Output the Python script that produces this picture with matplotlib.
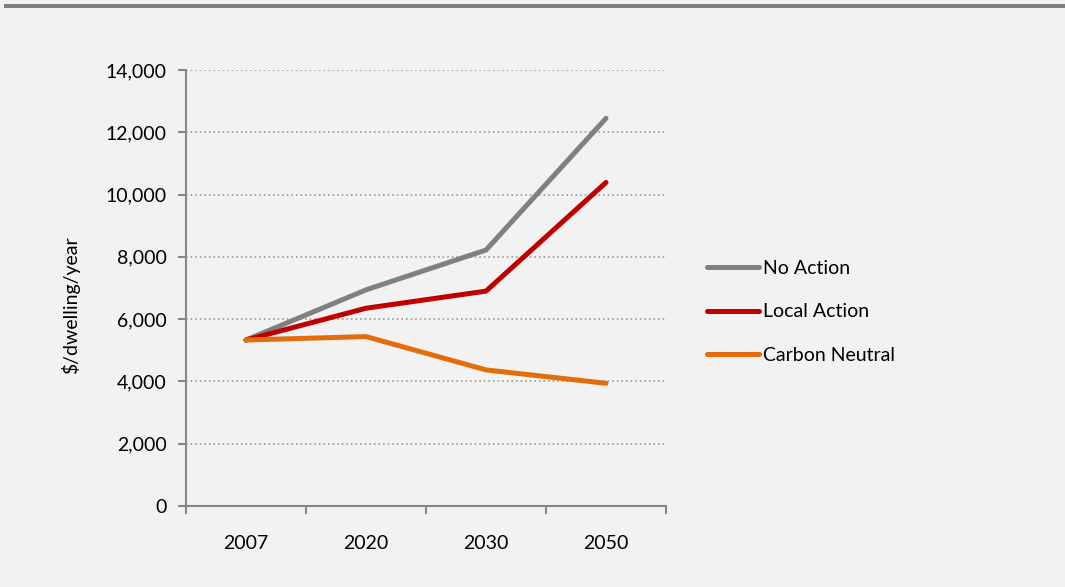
import matplotlib.pyplot as plt
from matplotlib.lines import Line2D

plt.rcParams['font.family'] = ['Lato', 'DejaVu Sans']

years = ['2007', '2020', '2030', '2050']
no_action = [5330, 6940, 8220, 12450]
local_action = [5330, 6350, 6900, 10390]
carbon_neutral = [5330, 5440, 4370, 3940]

series = [
    ('No Action', no_action, '#808080'),
    ('Local Action', local_action, '#c00000'),
    ('Carbon Neutral', carbon_neutral, '#e46c0a'),
]

bg = '#f2f2f2'
axis_grey = '#868686'

fig = plt.figure(figsize=(10.65, 5.87), dpi=100, facecolor=bg)
# grey band along the top edge
fig.patches.append(plt.Rectangle((0.004, 0.986), 0.996, 0.008, transform=fig.transFigure,
                                 facecolor='#808080', edgecolor='none'))

ax = fig.add_axes([0.1746, 0.138, 0.4508, 0.7427])
ax.set_facecolor(bg)

x = range(len(years))
for name, vals, col in series:
    ax.plot(x, vals, color=col, lw=3.6, solid_capstyle='round', label=name)

ax.set_xlim(-0.5, len(years) - 0.5)
ax.set_ylim(0, 14000)
ax.set_yticks(range(0, 14001, 2000))
ax.set_yticklabels([f'{v:,}' for v in range(0, 14001, 2000)], fontsize=14)
ax.yaxis.grid(True, linestyle=(0, (1, 2)), color='#8c8c8c', lw=1.1)

# category boundaries get the tick marks, centres get the labels
ax.set_xticks([i - 0.5 for i in range(len(years) + 1)])
ax.set_xticklabels([])
ax.set_xticks(list(x), minor=True)
ax.set_xticklabels(years, minor=True, fontsize=14)
ax.tick_params(axis='x', which='major', length=6, color=axis_grey, width=1.5, direction='out')
ax.tick_params(axis='x', which='minor', length=0, pad=21)
ax.tick_params(axis='y', length=6, color=axis_grey, width=1.5, pad=8)

for s in ['top', 'right']:
    ax.spines[s].set_visible(False)
for s in ['left', 'bottom']:
    ax.spines[s].set_color(axis_grey)
    ax.spines[s].set_linewidth(1.5)

ax.set_ylabel('$/dwelling/year', fontsize=14)
ax.yaxis.set_label_coords(-0.22, 0.46)

handles = [Line2D([], [], color=c, lw=3.6, solid_capstyle='round') for _, _, c in series]
fig.legend(handles, [n for n, _, _ in series], loc='center left',
           bbox_to_anchor=(0.6472, 0.4685), frameon=False, fontsize=14,
           handlelength=2.7, handletextpad=0.2, labelspacing=1.35)

fig.savefig('out.png', dpi=100, facecolor=bg)
